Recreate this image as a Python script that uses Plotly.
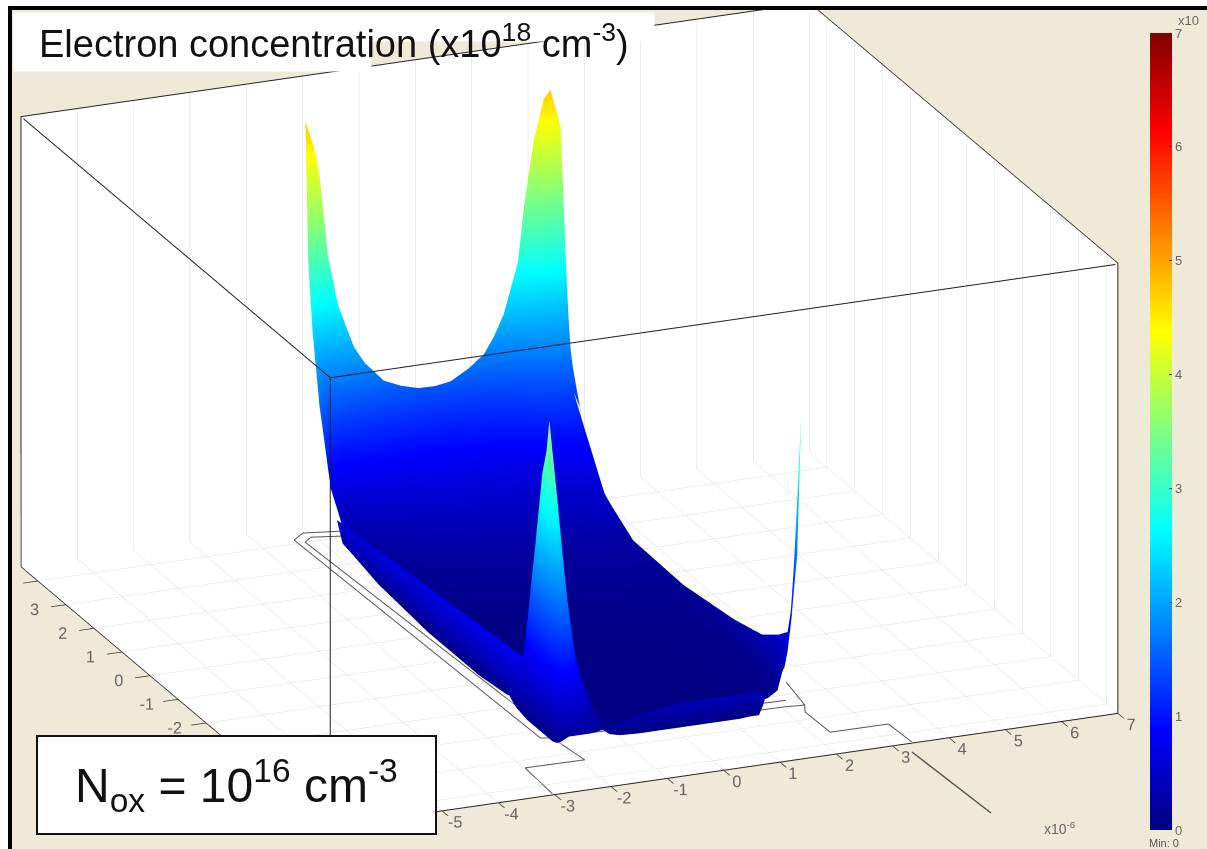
import plotly.graph_objects as go

N = None
# ---- data ----
x_nodes = [-2.3,-2.2,-2.05,-1.9,-1.8,-1.65,-1.47,-1.19,-1.0,-0.66,-0.35,-0.05,0.25,0.53,0.85,1.12,1.3,1.47,1.72,1.83,2.0,2.18,2.3,2.48,2.57,2.62]
y_nodes = [-5.0,-4.85,-4.72,-4.3,-4.2,-4.05,-3.8,-3.4,-2.8,-1.8,0,1.8,2.8,3.5,3.9,4.15,4.3,4.4]
electron = [
 [N,.15,.2,.2,.2,.2,.22,.26,.3,.34,.38,.4,.4,.4,.4,.4,.4,.38,N,N,N,N,N,N,N,N],
 [N,.1,.9,.7,.5,.3,.2,.16,.16,.16,.17,.17,.17,.17,.17,.18,.18,.18,N,N,N,N,N,N,N,N],
 [N,.08,1.7,1.3,.95,.5,.22,.07,.04,.03,.03,.03,.03,.03,.03,.03,.04,.04,N,N,N,N,N,N,N,N],
 [N,.08,3.68,2.7,1.95,1.05,.6,.15,.08,.05,.04,.04,.04,.04,.04,.04,.05,.05,.07,.09,.16,.6,1.26,N,N,N],
 [N,.08,3.3,2.2,1.5,.8,.4,.12,.06,.04,.03,.03,.03,.03,.03,.03,.04,.04,.06,.08,.14,.4,.95,3.4,N,N],
 [N,.08,3.0,1.5,1.0,.5,.25,.08,.05,.03,.03,.03,.03,.03,.03,.03,.04,.04,.05,.06,.1,.25,.55,1.65,N,N],
 [.82,.08,2.1,.9,.5,.25,.1,.05,.04,.03,.03,.03,.03,.03,.03,.03,.04,.04,.05,.06,.08,.15,.3,.68,N,N],
 [.82,.12,.75,.35,.15,.08,.05,.04,.04,.03,.03,.03,.03,.03,.03,.03,.04,.04,.05,.06,.07,.1,.2,.53,N,N],
 [.8,.3,.08,.05,.04,.03,.03,.03,.03,.03,.03,.03,.03,.03,.03,.04,.04,.04,.05,.06,.07,.09,.15,.36,N,N],
 [.76,.3,.03,.03,.03,.03,.03,.03,.03,.03,.03,.03,.03,.04,.04,.04,.04,.05,.06,.06,.07,.08,.12,.26,N,N],
 [.7,.28,.03,.03,.03,.04,.04,.05,.05,.06,.07,.08,.08,.08,.09,.09,.1,.1,.1,.1,.1,.1,.12,.16,N,N],
 [.64,.28,.1,.08,.09,.1,.12,.15,.17,.19,.2,.22,.23,.24,.25,.25,.26,.27,.28,.28,.28,.28,.27,.18,N,N],
 [.6,.32,.2,.2,.22,.25,.28,.33,.37,.42,.45,.47,.49,.5,.51,.52,.53,.55,.58,.6,.62,.65,.68,.42,N,N],
 [N,N,.75,.55,.52,.54,.58,.65,.67,.7,.71,.72,.72,.73,.75,.76,.79,.82,.88,.92,.96,.99,1.0,.98,N,N],
 [N,N,1.6,1.15,1.0,.95,.95,.95,.95,.95,.95,.95,.96,.97,1.0,1.02,1.06,1.1,1.2,1.25,1.3,1.35,1.35,1.3,1.15,1.0],
 [N,N,2.4,1.7,1.45,1.3,1.25,1.2,1.18,1.15,1.13,1.12,1.12,1.13,1.17,1.2,1.26,1.32,1.48,1.58,1.7,1.8,1.85,1.8,1.55,1.3],
 [N,N,3.15,2.2,1.9,1.7,1.55,1.45,1.42,1.35,1.32,1.3,1.29,1.3,1.35,1.4,1.5,1.6,1.85,2.0,2.2,2.35,2.4,2.3,1.9,1.6],
 [N,N,4.76,4.45,4.11,3.16,2.57,2.06,1.86,1.62,1.53,1.475,1.47,1.5,1.62,1.76,1.95,2.19,2.76,3.4,4.15,4.62,4.72,4.28,2.77,2.0],
]
x_ticks = [-7,-6,-5,-4,-3,-2,-1,0,1,2,3,4,5,6,7]
x_labels = ['-7','-6','-5','-4','-3','-2','-1','0','1','2','3','4','5','6','7']
y_ticks = [4,3,2,1,0,-1,-2,-3,-4,-5,-6]
y_labels = ['','3','2','1','0','-1','-2','-3','-4','-5','-6']
cbar_ticks = [0,1,2,3,4,5,6,7]

X_RANGE = [-7, 7]
Y_RANGE = [-6.4, 4.6]
Z_RANGE = [0, 5.23]

outer_x = [-1.51,-2.12,-2.38,-2.20,-2.02,2.07,2.40,2.53]
outer_y = [4.22,4.35,4.14,-4.28,-4.34,-4.43,-4.47,-3.54]
inner_x = [-1.6,-2.07,-2.25,-1.95,2.2]
inner_y = [4.04,4.16,4.01,-4.07,-4.2]
pad1_x = [-2.02,-1.92,-2.97,-3.02]
pad1_y = [-4.34,-5.30,-5.28,-6.35]
pad2_x = [2.40,2.28,2.30,3.33,3.36]
pad2_y = [-4.47,-4.72,-5.58,-5.59,-6.35]
# the three box edges nearest the viewer, just inside the axis ranges
edge_x = [6.97,-6.97,-6.97,None,-6.97,-6.97]
edge_y = [-6.37,-6.37,4.57,None,-6.37,-6.37]
edge_z = [5.21,5.21,5.21,None,5.21,0.01]

jet = [[0,'rgb(0,0,128)'],[.125,'rgb(0,0,255)'],[.375,'rgb(0,255,255)'],
       [.625,'rgb(255,255,0)'],[.875,'rgb(255,0,0)'],[1,'rgb(128,0,0)']]

W, H = 1207, 849
BEIGE = '#efe9d7'

fig = go.Figure()
fig.add_trace(go.Surface(
    x=x_nodes, y=y_nodes, z=electron, cmin=0, cmax=7, colorscale=jet,
    lighting=dict(ambient=1, diffuse=0, specular=0, fresnel=0, roughness=1),
    hoverinfo='skip', connectgaps=False,
    colorbar=dict(x=1150/W, xanchor='left', y=1-431.5/H, yanchor='middle',
                  lenmode='pixels', len=797, thicknessmode='pixels', thickness=22,
                  xpad=0, ypad=0, tickvals=cbar_ticks, ticks='inside', ticklen=3,
                  tickcolor='#333333', outlinewidth=0,
                  tickfont=dict(family='Liberation Sans', size=13, color='#666666')),
))
for lx, ly in [(outer_x, outer_y), (inner_x, inner_y), (pad1_x, pad1_y), (pad2_x, pad2_y)]:
    fig.add_trace(go.Scatter3d(x=lx, y=ly, z=[0]*len(lx), mode='lines',
                               line=dict(color='#555555', width=2),
                               showlegend=False, hoverinfo='skip'))
fig.add_trace(go.Scatter3d(x=edge_x, y=edge_y, z=edge_z, mode='lines',
                           line=dict(color='#222222', width=2),
                           showlegend=False, hoverinfo='skip'))

def axis(**kw):
    base = dict(title='', showbackground=True, backgroundcolor='white',
                showline=True, linecolor='#222222', linewidth=2, mirror=True,
                showspikes=False, zeroline=False, autorange=False,
                gridcolor='#d4d4d4', gridwidth=1, tickangle=0,
                tickfont=dict(family='Liberation Sans', size=14, color='#666666'),
                ticks='outside', ticklen=16, tickwidth=2, tickcolor='#333333')
    base.update(kw)
    return base

SCALE = 2.056
K = 4
fig.update_layout(
    width=W, height=H, autosize=False, paper_bgcolor=BEIGE,
    margin=dict(l=0, r=0, t=0, b=0),
    scene=dict(
        domain=dict(x=[0, 0.944], y=[0.022, 1]),
        aspectmode='manual', aspectratio=dict(x=SCALE, y=0.946*SCALE, z=0.563*SCALE),
        camera=dict(projection=dict(type='orthographic'),
                    up=dict(x=0, y=0, z=1), center=dict(x=0, y=0, z=0),
                    eye=dict(x=-0.358*K, y=-0.866*K, z=0.349*K)),
        xaxis=axis(range=X_RANGE, tickvals=x_ticks, ticktext=x_labels),
        yaxis=axis(range=Y_RANGE, tickvals=y_ticks, ticktext=y_labels),
        zaxis=axis(range=Z_RANGE, showgrid=False, showticklabels=False, ticks=''),
    ),
    shapes=[
        dict(type='rect', xref='paper', yref='paper', x0=0, x1=8/W, y0=0, y1=1,
             fillcolor='white', line_width=0),
        dict(type='rect', xref='paper', yref='paper', x0=0, x1=1, y0=1-6/H, y1=1,
             fillcolor='white', line_width=0),
        dict(type='rect', xref='paper', yref='paper', x0=8/W, x1=12/W, y0=0, y1=1-6/H,
             fillcolor='black', line_width=0),
        dict(type='rect', xref='paper', yref='paper', x0=8/W, x1=1, y0=1-10/H, y1=1-6/H,
             fillcolor='black', line_width=0),
        dict(type='line', xref='paper', yref='paper', x0=912/W, y0=1-752/H, x1=991/W, y1=1-813/H,
             line=dict(color='#555555', width=1.5)),
    ],
)

def box(x0, y0, x1, y1, **kw):
    return dict(xref='paper', yref='paper', x=x0/W, y=1-y0/H, xanchor='left', yanchor='top',
                width=x1-x0, height=y1-y0, showarrow=False, text=' ', bgcolor='white', **kw)

fig.update_layout(annotations=[
    box(13, 12, 651, 38),
    box(13, 40, 368, 68),
    dict(xref='paper', yref='paper', x=37/W, y=1-41/H, xanchor='left', yanchor='middle', showarrow=False,
         text='Electron concentration (x10<sup>18</sup> cm<sup>-3</sup>)',
         font=dict(family='Liberation Sans', size=38, color='#111111')),
    box(36, 735, 431, 829, bordercolor='#111111', borderwidth=2),
    dict(xref='paper', yref='paper', x=236/W, y=1-785/H, xanchor='center', yanchor='middle', showarrow=False,
         text='N<sub>ox</sub> = 10<sup>16</sup> cm<sup>-3</sup>',
         font=dict(family='Liberation Sans', size=48, color='#111111')),
    dict(xref='paper', yref='paper', x=1042/W, y=1-828/H, xanchor='left', yanchor='middle', showarrow=False,
         text='x10<sup>-6</sup>', font=dict(family='Liberation Sans', size=14, color='#666666')),
    dict(xref='paper', yref='paper', x=1176/W, y=1-21/H, xanchor='left', yanchor='middle', showarrow=False,
         text='x10', font=dict(family='Liberation Sans', size=13, color='#666666')),
    dict(xref='paper', yref='paper', x=1147/W, y=1-843/H, xanchor='left', yanchor='middle', showarrow=False,
         text='Min: 0', font=dict(family='Liberation Sans', size=11, color='#555555')),
])

fig.write_html("out.html", config=dict(displayModeBar=False),
               post_script="document.body.style.margin='0';")
